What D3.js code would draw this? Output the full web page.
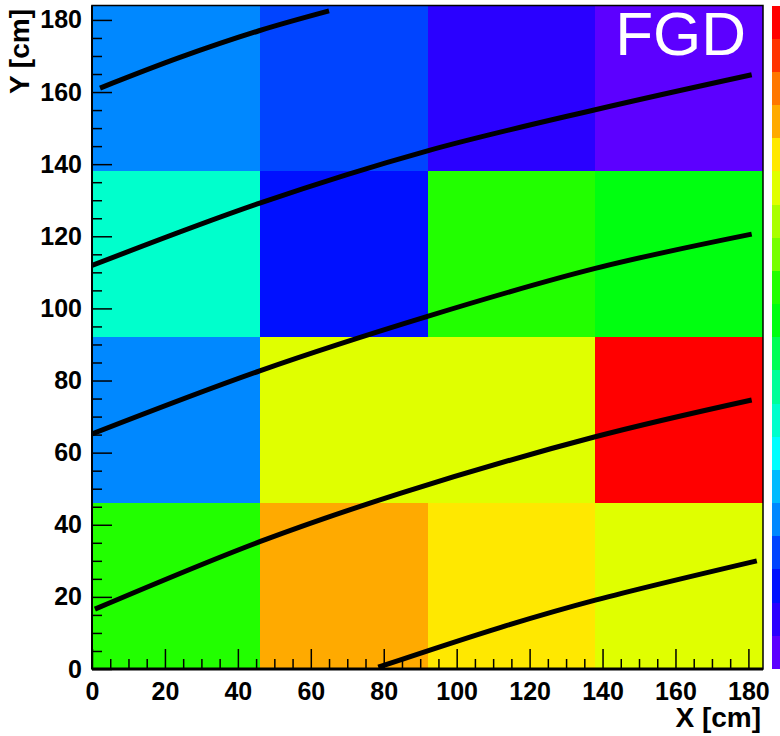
<!DOCTYPE html>
<html>
<head>
<meta charset="utf-8">
<script src="https://cdn.jsdelivr.net/npm/d3@7"></script>
<style>
  html, body { margin: 0; padding: 0; background: #fff; }
  svg { display: block; }
</style>
</head>
<body>
<svg id="chart" width="780" height="736"></svg>
<script>
// ---- data ----
const xBinEdges = [0, 46, 92, 138, 184];
const yBinEdges = [0, 46, 92, 138, 184];
// z values, rows from bottom (y 0-46) to top (y 138-184), columns left to right
const zRow0 = [11.5, 16.5, 15.5, 14.5];
const zRow1 = [4.5, 14.5, 14.5, 19.5];
const zRow2 = [7.5, 2.5, 11.5, 10.5];
const zRow3 = [4.5, 3.5, 1.5, 0.5];
const zDomain = [0, 20];
const palette = ["#5c00ff","#2a00ff","#0010ff","#0044ff","#0088ff","#00bbff","#00ffff","#00ffcc","#00ff99","#00ff55",
                 "#00ff10","#22ff00","#77ff00","#aaff00","#e0ff00","#ffe800","#ffaa00","#ff7700","#ff3300","#ff0000"];
const xTicks = [0, 20, 40, 60, 80, 100, 120, 140, 160, 180];
const yTicks = [0, 20, 40, 60, 80, 100, 120, 140, 160, 180];
const track1 = [[2.2,161.1],[24.1,169.6],[45.8,177.0],[65.0,182.5]];
const track2 = [[0,111.9],[46,129.2],[92,143.7],[138,155.1],[180.9,164.8]];
const track3 = [[0,65.2],[46,82.7],[92,97.8],[138,111.1],[180.9,120.6]];
const track4 = [[0.8,16.6],[46,35.3],[84.5,48.7],[138,64.4],[180.9,74.6]];
const track5 = [[78.5,0.5],[111.9,11.5],[138,19.1],[182.3,30.0]];
const xTitle = "X [cm]";
const yTitle = "Y [cm]";
const label = "FGD";

// ---- drawing ----
const svg = d3.select("#chart");
const L = 92, R = 763, T = 5.5, B = 669;
const x = d3.scaleLinear().domain([0, 184]).range([L, R]);
const y = d3.scaleLinear().domain([0, 184]).range([B, T]);
const color = d3.scaleQuantize().domain(zDomain).range(palette);

const zRows = [zRow0, zRow1, zRow2, zRow3];
const cells = [];
zRows.forEach((row, j) => row.forEach((z, i) => cells.push({i, j, z})));

svg.append("clipPath").attr("id", "plotclip")
  .append("rect").attr("x", L).attr("y", T).attr("width", R - L).attr("height", B - T);

svg.append("g").selectAll("rect").data(cells).join("rect")
  .attr("x", d => x(xBinEdges[d.i]))
  .attr("y", d => y(yBinEdges[d.j + 1]))
  .attr("width", d => x(xBinEdges[d.i + 1]) - x(xBinEdges[d.i]))
  .attr("height", d => y(yBinEdges[d.j]) - y(yBinEdges[d.j + 1]))
  .attr("fill", d => color(d.z))
  .attr("shape-rendering", "crispEdges");

// tracks
const line = d3.line().x(d => x(d[0])).y(d => y(d[1])).curve(d3.curveCatmullRom.alpha(0.5));
svg.append("g").attr("clip-path", "url(#plotclip)")
  .selectAll("path").data([track1, track2, track3, track4, track5]).join("path")
  .attr("d", line).attr("fill", "none").attr("stroke", "#000").attr("stroke-width", 5);

// FGD label
svg.append("text").attr("x", 746).attr("y", 55).attr("text-anchor", "end")
  .attr("font-family", "'Liberation Sans', Arial, sans-serif").attr("font-size", 62)
  .attr("fill", "#fff").text(label);

// colour bar
const zScale = d3.scaleLinear().domain(zDomain).range([B, T]);
svg.append("g").selectAll("rect").data(palette).join("rect")
  .attr("x", 771.5).attr("width", 30)
  .attr("y", (c, k) => zScale(k + 1))
  .attr("height", (c, k) => zScale(k) - zScale(k + 1))
  .attr("fill", c => c)
  .attr("shape-rendering", "crispEdges");

// axes
const font = "'Liberation Sans', Arial, sans-serif";
const minorX = d3.range(0, 185, 5).filter(v => v % 20 !== 0);
const minorY = d3.range(0, 185, 5).filter(v => v % 20 !== 0);

const gx = svg.append("g").attr("transform", `translate(0,${B})`)
  .call(d3.axisBottom(x).tickValues(xTicks).tickSize(-20).tickPadding(13).tickFormat(d3.format("d")));
const gxm = svg.append("g").attr("transform", `translate(0,${B})`)
  .call(d3.axisBottom(x).tickValues(minorX).tickSize(-10).tickFormat(""));
const gy = svg.append("g").attr("transform", `translate(${L},0)`)
  .call(d3.axisLeft(y).tickValues(yTicks).tickSize(-20).tickPadding(10).tickFormat(d3.format("d")));
const gym = svg.append("g").attr("transform", `translate(${L},0)`)
  .call(d3.axisLeft(y).tickValues(minorY).tickSize(-10).tickFormat(""));

[gx, gxm, gy, gym].forEach(g => {
  g.select(".domain").remove();
  g.selectAll(".tick line").attr("stroke", "#000").attr("stroke-width", 1.5);
  g.selectAll("text").attr("font-family", font).attr("font-weight", "bold")
    .attr("font-size", 25).attr("fill", "#000");
});

// frame
svg.append("rect").attr("x", L).attr("y", T).attr("width", R - L).attr("height", B - T)
  .attr("fill", "none").attr("stroke", "#000").attr("stroke-width", 1.5);
svg.append("line").attr("x1", L).attr("x2", R).attr("y1", B).attr("y2", B)
  .attr("stroke", "#000").attr("stroke-width", 3);
svg.append("line").attr("x1", L).attr("x2", L).attr("y1", T).attr("y2", B)
  .attr("stroke", "#000").attr("stroke-width", 2);

// titles
svg.append("text").attr("x", 761).attr("y", 727).attr("text-anchor", "end")
  .attr("font-family", font).attr("font-weight", "bold").attr("font-size", 28).text(xTitle);
svg.append("text").attr("transform", "translate(29,9) rotate(-90)").attr("text-anchor", "end")
  .attr("font-family", font).attr("font-weight", "bold").attr("font-size", 28).text(yTitle);
</script>
</body>
</html>
